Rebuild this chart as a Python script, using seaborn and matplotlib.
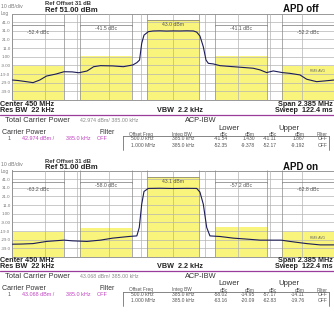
import numpy as np
import pandas as pd
import matplotlib
matplotlib.use("Agg")
import matplotlib.pyplot as plt
import seaborn as sns

# ---------------- data ----------------
CENTER_MHZ = 450.0
SPAN_MHZ = 2.385
REF_DBM = 51.0
IBW_MHZ = 0.385
band_offsets = [-1.0, -0.5, 0.0, 0.5, 1.0]

titles = ["APD off", "APD on"]
ytick_values = [41, 31, 21, 11, 1, -9, -19, -29, -39]
ytick_labels = ["41.0", "31.0", "21.0", "11.0", "1.00", "-9.00", "-19.0", "-29.0", "-39.0"]

# trace (offset from centre in MHz, level in dBm)
trace1_off = [-1.1925, -1.15, -1.09, -1.04, -0.99, -0.94, -0.87, -0.81, -0.75, -0.70,
              -0.64, -0.59, -0.54, -0.45, -0.37, -0.30, -0.27, -0.25, -0.234, -0.217,
              -0.185, -0.15, -0.10, -0.05, 0.0, 0.05, 0.10, 0.15, 0.174, 0.198,
              0.223, 0.243, 0.26, 0.297, 0.347, 0.446, 0.52, 0.594, 0.644, 0.693,
              0.742, 0.809, 0.866, 0.94, 0.99, 1.064, 1.12, 1.1925]
trace1_db = [-25.9, -26.5, -27.8, -28.9, -25.9, -21.3, -19.0, -16.3, -16.5, -17.5,
             -15.5, -10.5, -9.3, -9.6, -10.5, -8.5, -5.8, -2.8, 16.5, 26.0,
             30.0, 30.8, 31.0, 30.7, 30.9, 30.8, 31.0, 30.8, 29.5, 25.0,
             12.6, -2.8, -6.6, -7.3, -9.3, -10.5, -11.4, -12.3, -14.2, -17.3,
             -15.4, -17.3, -18.2, -20.0, -25.0, -27.8, -27.0, -25.9]

trace2_off = [-1.1925, -1.12, -1.04, -0.94, -0.81, -0.75, -0.64, -0.54, -0.45, -0.33,
              -0.27, -0.252, -0.234, -0.217, -0.185, -0.10, 0.0, 0.10, 0.174, 0.198,
              0.223, 0.248, 0.272, 0.347, 0.446, 0.545, 0.644, 0.693, 0.80, 0.866,
              0.99, 1.09, 1.1925]
trace2_db = [-34.2, -34.0, -33.5, -31.0, -29.5, -30.3, -31.0, -29.5, -27.2, -25.3,
             -24.6, -14.8, 12.0, 26.8, 30.3, 30.5, 30.2, 30.4, 30.3, 26.0,
             12.0, -14.8, -24.6, -25.3, -27.2, -28.3, -29.5, -29.5, -29.5, -31.0,
             -33.5, -35.0, -35.0]

band_levels = [[-9.378, 1.430, 42.974, 1.867, -9.192],
               [-20.09, -14.95, 43.068, -14.11, -19.76]]
band_labels = [["-52.4 dBc", "-41.5 dBc", "43.0 dBm", "-41.1 dBc", "-52.2 dBc"],
               ["-63.2 dBc", "-58.0 dBc", "43.1 dBm", "-57.2 dBc", "-62.8 dBc"]]

total_power = ["42.974 dBm/ 385.00 kHz", "43.068 dBm/ 385.00 kHz"]
carrier_power = ["42.974 dBm /", "43.068 dBm /"]
offset_freq = ["500.0 kHz", "1.000 MHz"]
integ_bw = ["385.0 kHz", "385.0 kHz"]
lower_dbc = [["-41.54", "-52.35"], ["-58.02", "-63.16"]]
lower_dbm = [["1.430", "-9.378"], ["-14.95", "-20.09"]]
upper_dbc = [["-41.11", "-52.17"], ["-57.17", "-62.83"]]
upper_dbm = [["1.867", "-9.192"], ["-14.11", "-19.76"]]

# ---------------- style ----------------
sns.set_style("white")
plt.rcParams["font.family"] = ["Liberation Sans", "DejaVu Sans"]

W, H = 334, 312
fig = plt.figure(figsize=(W / 100, H / 100), dpi=100)
fig.patch.set_facecolor("white")

YELLOW = "#f8f47c"
TRACE = "#1c1c58"
GRIDC = "#b4b4b4"
EDGEC = "#8a8a8a"
MAG = "#c040c0"


def ftext(x, y, s, size, **kw):
    kw.setdefault("va", "center")
    kw.setdefault("color", "#333333")
    fig.text(x / W, 1 - y / H, s, fontsize=size, **kw)


plot_top = [13.5, 170.5]
plot_h = 86.5
head_dy = [0, 157.5]
bot_dy = [0, 155.5]
traces = [(trace1_off, trace1_db), (trace2_off, trace2_db)]

lo = CENTER_MHZ - SPAN_MHZ / 2
hi = CENTER_MHZ + SPAN_MHZ / 2

for p in range(2):
    top = plot_top[p]
    ax = fig.add_axes([12.5 / W, 1 - (top + plot_h) / H, 321.5 / W, plot_h / H])
    ax.set_xlim(lo, hi)
    ax.set_ylim(REF_DBM - 100, REF_DBM)
    ax.set_xticks(np.linspace(lo, hi, 11))
    ax.set_xticklabels([])
    ax.set_yticks(ytick_values)
    ax.set_yticklabels(ytick_labels)
    ax.tick_params(length=0, labelsize=3.2, labelcolor="#777777", pad=1.5)
    ax.grid(True, color=GRIDC, lw=0.5)
    ax.set_axisbelow(False)
    for s in ax.spines.values():
        s.set_color("#888888")
        s.set_linewidth(0.6)

    centers = [CENTER_MHZ + o for o in band_offsets]
    bottoms = REF_DBM - 100
    ax.bar(centers, [lv - bottoms for lv in band_levels[p]], width=IBW_MHZ,
           bottom=bottoms, color=YELLOW, edgecolor="none", zorder=1)
    edges = sorted([c - IBW_MHZ / 2 for c in centers] + [c + IBW_MHZ / 2 for c in centers])
    ax.vlines(edges, bottoms, REF_DBM, color=EDGEC, lw=0.5, zorder=2.6)

    # annotation brackets
    for i, c in enumerate(centers):
        l, r = c - IBW_MHZ / 2, c + IBW_MHZ / 2
        if i != 2:
            ax.hlines(38, l, r, color="#777777", lw=0.5, zorder=2.7)
            ax.vlines([l, r], 36, 38, color="#777777", lw=0.5, zorder=2.7)
            yl = 29.5 if i in (0, 4) else 34.2
        else:
            ax.hlines(band_levels[p][i], l, r, color="#777777", lw=0.5, zorder=2.7)
            yl = 38.7
        ax.text(c, yl, band_labels[p][i], ha="center", va="center",
                fontsize=3.7, color="#555555", zorder=4)

    off, db = traces[p]
    df = pd.DataFrame({"freq": [CENTER_MHZ + o for o in off], "level": db})
    sns.lineplot(data=df, x="freq", y="level", ax=ax, color=TRACE, lw=0.8,
                 zorder=3, estimator=None, sort=False)
    ax.set_xlabel("")
    ax.set_ylabel("")
    ax.text(CENTER_MHZ + 1.07, [-15.5, -27.0][p], "RMS AVG", fontsize=2.4,
            color="#666666", ha="center", va="center", zorder=4)

    # header
    hd = head_dy[p]
    ftext(1, 6.5 + hd, "10 dB/div", 3.7, color="#777777")
    ftext(1, 13.5 + hd, "Log", 3.4, color="#777777")
    ftext(45, 3.5 + hd, "Ref Offset 31 dB", 4.2, weight="bold", color="#333333")
    ftext(45, 10 + hd, "Ref 51.00 dBm", 5.5, weight="bold", color="#222222")
    ftext(283, 9 + hd, titles[p], 7, weight="bold", color="#111111")

    # bottom annotations
    bd = bot_dy[p]
    ftext(0.5, 105 + bd, "Center 450 MHz", 5.2, weight="bold", color="#222222")
    ftext(0.5, 110.5 + bd, "Res BW  22 kHz", 5.2, weight="bold", color="#222222")
    ftext(157, 110.5 + bd, "VBW  2.2 kHz", 5.2, weight="bold", color="#222222")
    ftext(333, 105 + bd, "Span 2.385 MHz", 5.2, weight="bold", color="#222222", ha="right")
    ftext(333, 110.5 + bd, "Sweep  122.4 ms", 5.2, weight="bold", color="#222222", ha="right")
    fig.add_artist(plt.Line2D([0, 1], [1 - (115 + bd) / H] * 2, color="#9a3c9a", lw=0.9))

    ftext(5, 120.5 + bd, "Total Carrier Power", 5.4)
    ftext(80, 120.5 + bd, total_power[p], 3.8, color="#888888")
    ftext(185, 120.5 + bd, "ACP-IBW", 5.3)
    ftext(229, 128 + bd, "Lower", 5.6, ha="center")
    ftext(289, 128 + bd, "Upper", 5.6, ha="center")
    ftext(2, 133 + bd, "Carrier Power", 5.1)
    ftext(100, 132.5 + bd, "Filter", 4.9)

    hs = 3.4
    ftext(129, 134.5 + bd, "Offset Freq", hs, color="#555555")
    ftext(172, 134.5 + bd, "Integ BW", hs, color="#555555")
    ftext(228, 134.5 + bd, "dBc", hs, color="#555555", ha="right")
    ftext(255, 134.5 + bd, "dBm", hs, color="#555555", ha="right")
    ftext(277, 134.5 + bd, "dBc", hs, color="#555555", ha="right")
    ftext(305, 134.5 + bd, "dBm", hs, color="#555555", ha="right")
    ftext(317, 134.5 + bd, "Filter", hs, color="#555555")

    # table frame
    ytop = 1 - (136 + bd) / H
    ybot = 1 - (150 + bd) / H
    fig.add_artist(plt.Line2D([123 / W, 328.5 / W], [ytop, ytop], color="#555555", lw=0.5))
    fig.add_artist(plt.Line2D([123 / W] * 2, [ytop, ybot], color="#555555", lw=0.5))
    fig.add_artist(plt.Line2D([328.5 / W] * 2, [ytop, ybot], color="#555555", lw=0.5))

    ftext(8, 138.8 + bd, "1", 3.9, color="#555555")
    ftext(22, 138.8 + bd, carrier_power[p], 3.9, color=MAG)
    ftext(66, 138.8 + bd, "385.0 kHz", 3.9, color=MAG)
    ftext(97, 138.8 + bd, "OFF", 3.9, color=MAG)

    vs = 3.6
    for r in range(2):
        yy = 139 + 6.3 * r + bd
        ftext(131, yy, offset_freq[r], vs, color="#555555")
        ftext(194, yy, integ_bw[r], vs, color="#555555", ha="right")
        ftext(228, yy, lower_dbc[p][r], vs, color="#555555", ha="right")
        ftext(255, yy, lower_dbm[p][r], vs, color="#555555", ha="right")
        ftext(277, yy, upper_dbc[p][r], vs, color="#555555", ha="right")
        ftext(305, yy, upper_dbm[p][r], vs, color="#555555", ha="right")
        ftext(318, yy, "OFF", vs, color="#555555")

fig.savefig("out.png", dpi=100, facecolor="white")
